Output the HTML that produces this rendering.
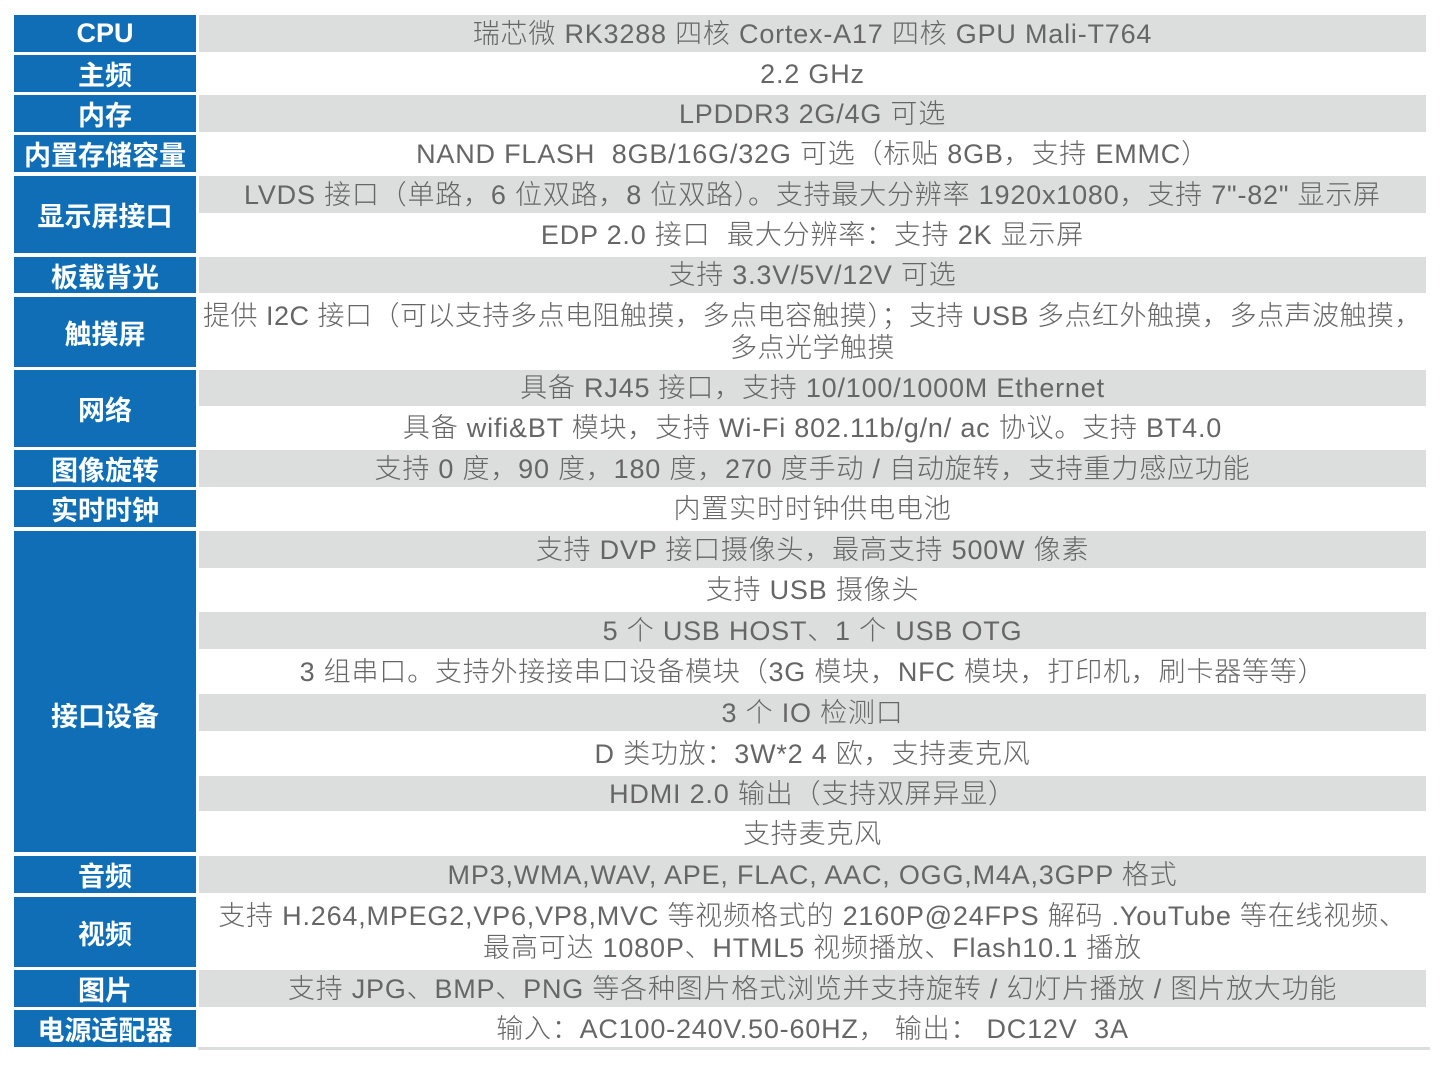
<!DOCTYPE html>
<html><head><meta charset="utf-8"><style>
body{margin:0;width:1443px;height:1074px;background:#fff;position:relative;overflow:hidden}
.l{position:absolute;left:14px;width:182px;background:#0f6eb5;color:#fff;font:bold 27px "Liberation Sans","Noto Sans CJK SC",sans-serif;display:flex;align-items:center;justify-content:center}
.c{position:absolute;left:199px;width:1227px;color:#666;font:300 27px "Liberation Sans","Noto Sans CJK SC",sans-serif;letter-spacing:0.8px;display:flex;align-items:center;justify-content:center;text-align:center;line-height:32px;white-space:nowrap}
.g{background:#dcdddd}
</style></head><body>
<div class="l" style="top:15px;height:37px">CPU</div>
<div class="l" style="top:55px;height:37px">主频</div>
<div class="l" style="top:95px;height:37px">内存</div>
<div class="l" style="top:135px;height:37px">内置存储容量</div>
<div class="l" style="top:176px;height:77px">显示屏接口</div>
<div class="l" style="top:257px;height:36px">板载背光</div>
<div class="l" style="top:297px;height:70px">触摸屏</div>
<div class="l" style="top:370px;height:77px">网络</div>
<div class="l" style="top:450px;height:37px">图像旋转</div>
<div class="l" style="top:490px;height:37px">实时时钟</div>
<div class="l" style="top:531px;height:321px;align-items:flex-start"><span style="margin-top:164px">接口设备</span></div>
<div class="l" style="top:856px;height:37px">音频</div>
<div class="l" style="top:897px;height:70px">视频</div>
<div class="l" style="top:970px;height:37px">图片</div>
<div class="l" style="top:1010px;height:37px">电源适配器</div>

<div class="c g" style="top:15px;height:37px">瑞芯微 RK3288 四核 Cortex-A17 四核 GPU Mali-T764</div>
<div class="c" style="top:55px;height:37px">2.2 GHz</div>
<div class="c g" style="top:95px;height:37px">LPDDR3 2G/4G 可选</div>
<div class="c" style="top:135px;height:37px">NAND FLASH &nbsp;8GB/16G/32G 可选（标贴 8GB，支持 EMMC）</div>
<div class="c g" style="top:176px;height:37px">LVDS 接口（单路，6 位双路，8 位双路）。支持最大分辨率 1920x1080，支持 7"-82" 显示屏</div>
<div class="c" style="top:216px;height:37px">EDP 2.0 接口 &nbsp;最大分辨率：支持 2K 显示屏</div>
<div class="c g" style="top:257px;height:36px">支持 3.3V/5V/12V 可选</div>
<div class="c" style="top:297px;height:70px;letter-spacing:0.5px">提供 I2C 接口（可以支持多点电阻触摸，多点电容触摸）；支持 USB 多点红外触摸，多点声波触摸，<br>多点光学触摸</div>
<div class="c g" style="top:370px;height:36px">具备 RJ45 接口，支持 10/100/1000M Ethernet</div>
<div class="c" style="top:409px;height:38px">具备 wifi&amp;BT 模块，支持 Wi-Fi 802.11b/g/n/ ac 协议。支持 BT4.0</div>
<div class="c g" style="top:450px;height:37px">支持 0 度，90 度，180 度，270 度手动 / 自动旋转，支持重力感应功能</div>
<div class="c" style="top:490px;height:37px">内置实时时钟供电电池</div>
<div class="c g" style="top:531px;height:37px">支持 DVP 接口摄像头，最高支持 500W 像素</div>
<div class="c" style="top:571px;height:37px">支持 USB 摄像头</div>
<div class="c g" style="top:612px;height:37px">5 个 USB HOST、1 个 USB OTG</div>
<div class="c" style="top:653px;height:37px">3 组串口。支持外接接串口设备模块（3G 模块，NFC 模块，打印机，刷卡器等等）</div>
<div class="c g" style="top:694px;height:37px">3 个 IO 检测口</div>
<div class="c" style="top:735px;height:37px">D 类功放：3W*2 4 欧，支持麦克风</div>
<div class="c g" style="top:776px;height:35px">HDMI 2.0 输出（支持双屏异显）</div>
<div class="c" style="top:815px;height:37px">支持麦克风</div>
<div class="c g" style="top:856px;height:37px">MP3,WMA,WAV, APE, FLAC, AAC, OGG,M4A,3GPP 格式</div>
<div class="c" style="top:897px;height:70px">支持 H.264,MPEG2,VP6,VP8,MVC 等视频格式的 2160P@24FPS 解码 .YouTube 等在线视频、<br>最高可达 1080P、HTML5 视频播放、Flash10.1 播放</div>
<div class="c g" style="top:970px;height:37px">支持 JPG、BMP、PNG 等各种图片格式浏览并支持旋转 / 幻灯片播放 / 图片放大功能</div>
<div class="c" style="top:1010px;height:37px">输入：AC100-240V.50-60HZ， 输出： DC12V &nbsp;3A</div>
<div style="position:absolute;left:198px;top:1047px;width:1232px;height:3px;background:#dcdddd"></div>
</body></html>
